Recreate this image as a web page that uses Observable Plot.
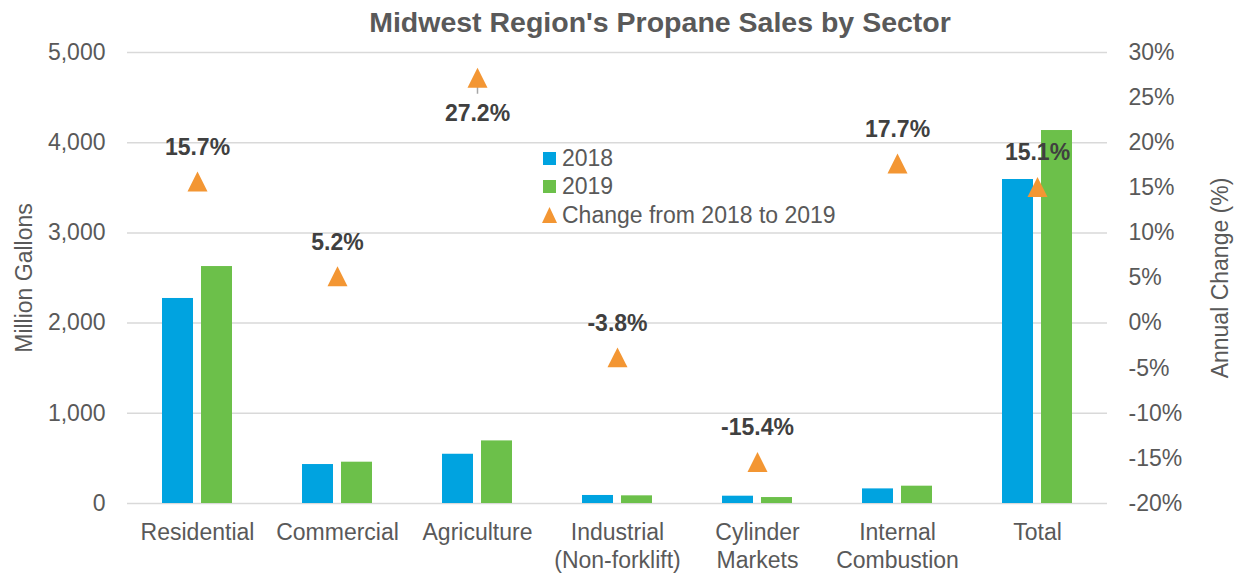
<!DOCTYPE html>
<html>
<head>
<meta charset="utf-8">
<script src="https://cdn.jsdelivr.net/npm/d3@7"></script>
<script src="https://cdn.jsdelivr.net/npm/@observablehq/plot@0.6"></script>
<style>
  html, body { margin: 0; padding: 0; background: #fff; overflow: hidden; }
  #wrap { position: relative; width: 1244px; height: 573px; font-family: "Liberation Sans", Arial, sans-serif; }
  #title { position: absolute; top: 8px; left: 76px; width: 1168px; text-align: center;
           font-size: 28.5px; line-height: 1; font-weight: bold; color: #595959; }
  #legend { position: absolute; left: 542px; top: 144px; font-size: 23px; color: #595959; }
  #legend .row { display: flex; align-items: center; height: 28.5px; }
  #legend .sw { width: 15px; height: 16px; display: flex; align-items: center; justify-content: center; margin-right: 5px; }
  #legend .sq { width: 13px; height: 13px; }
  svg { display: block; }
</style>
</head>
<body>
<div id="wrap">
  <div id="chart"></div>
  <div id="title"></div>
  <div id="legend"></div>
</div>
<script>
const titleText = "Midwest Region's Propane Sales by Sector";
const categories = ["Residential", "Commercial", "Agriculture", "Industrial\n(Non-forklift)", "Cylinder\nMarkets", "Internal\nCombustion", "Total"];
const years = ["2018", "2019"];
const sales2018 = [2273, 432, 546, 89, 81, 162, 3592];
const sales2019 = [2627, 458, 694, 85, 66, 192, 4135];
const pctChange = [15.7, 5.2, 27.2, -3.8, -15.4, 17.7, 15.1];
const changeLabel = "Change from 2018 to 2019";
const yTicks = [0, 1000, 2000, 3000, 4000, 5000];
const yDomain = [0, 5000];
const pctTicks = [-20, -15, -10, -5, 0, 5, 10, 15, 20, 25, 30];
const pctDomain = [-20, 30];
const yLabel = "Million Gallons";
const y2Label = "Annual Change (%)";

const colors = { "2018": "#00A3E0", "2019": "#6CC04A" };
const orange = "#F39633";

// map a percentage onto the left (gallons) scale
const toY = p => (p - pctDomain[0]) / (pctDomain[1] - pctDomain[0]) * (yDomain[1] - yDomain[0]) + yDomain[0];

const bars = [];
categories.forEach((c, i) => {
  bars.push({ cat: c, year: years[0], value: sales2018[i] });
  bars.push({ cat: c, year: years[1], value: sales2019[i] });
});
const changes = categories.map((c, i) => ({ cat: c, pct: pctChange[i] }));

// Excel-like triangle marker (width = height)
const tri = {
  draw(ctx, size) {
    const h = Math.sqrt(size);
    ctx.moveTo(0, -h / 2);
    ctx.lineTo(h / 2, h / 2);
    ctx.lineTo(-h / 2, h / 2);
    ctx.closePath();
  }
};
// short leader line drawn below a marker whose label sits underneath it
const leader = {
  draw(ctx, size) {
    ctx.moveTo(0, 0);
    ctx.lineTo(0, 16);
  }
};
const fmtPct = d => d.pct.toFixed(1) + "%";
const roomAbove = d => d.pct + 5 < pctDomain[1];

const chart = Plot.plot({
  width: 1244,
  height: 573,
  marginTop: 52,
  marginBottom: 70,
  marginLeft: 125,
  marginRight: 135,
  style: { fontFamily: "'Liberation Sans', Arial, sans-serif", fontSize: "23px", color: "#595959", background: "#fff" },
  fx: { domain: categories, padding: 0 },
  x: { domain: years, paddingInner: 0.215, paddingOuter: 0.886, axis: null },
  y: { domain: yDomain },
  marks: [
    Plot.gridY(yTicks, { stroke: "#d9d9d9", strokeOpacity: 1, strokeWidth: 1.5 }),
    Plot.barY(bars, { fx: "cat", x: "year", y: "value", fill: d => colors[d.year] }),
    Plot.axisFx({ anchor: "bottom", tickSize: 0, tickPadding: 17, label: null, lineHeight: 1.2 }),
    Plot.axisY(yTicks, { anchor: "left", tickSize: 0, tickPadding: 22, tickFormat: d3.format(","),
      label: yLabel, labelAnchor: "center", labelOffset: 112, labelArrow: "none" }),
    Plot.axisY(pctTicks.map(toY), { anchor: "right", tickSize: 0, tickPadding: 21,
      tickFormat: d => Math.round(d3.scaleLinear().domain(yDomain).range(pctDomain)(d)) + "%",
      label: y2Label, labelAnchor: "center", labelOffset: 120, labelArrow: "none" }),
    Plot.dot(changes.filter(d => !roomAbove(d)), { fx: "cat", y: d => toY(d.pct), symbol: leader, r: 5,
      stroke: "#a6a6a6", strokeWidth: 1.5, fill: "none" }),
    Plot.dot(changes, { fx: "cat", y: d => toY(d.pct), symbol: tri, r: 11.28, fill: orange, stroke: null }),
    Plot.text(changes.filter(roomAbove), { fx: "cat", y: d => toY(d.pct), text: fmtPct, dy: -34,
      fontSize: 23, fontWeight: "bold", fill: "#404040" }),
    Plot.text(changes.filter(d => !roomAbove(d)), { fx: "cat", y: d => toY(d.pct), text: fmtPct, dy: 36,
      fontSize: 23, fontWeight: "bold", fill: "#404040" })
  ]
});
document.getElementById("chart").appendChild(chart);
document.getElementById("title").textContent = titleText;

const legend = document.getElementById("legend");
const items = [
  { label: years[0], html: `<div class="sq" style="background:${colors[years[0]]}"></div>` },
  { label: years[1], html: `<div class="sq" style="background:${colors[years[1]]}"></div>` },
  { label: changeLabel, html: `<svg width="15" height="16"><path d="M7.5 0L15 16H0Z" fill="${orange}"/></svg>` }
];
items.forEach(it => {
  const row = document.createElement("div");
  row.className = "row";
  row.innerHTML = `<div class="sw">${it.html}</div><span>${it.label}</span>`;
  legend.appendChild(row);
});
</script>
</body>
</html>
